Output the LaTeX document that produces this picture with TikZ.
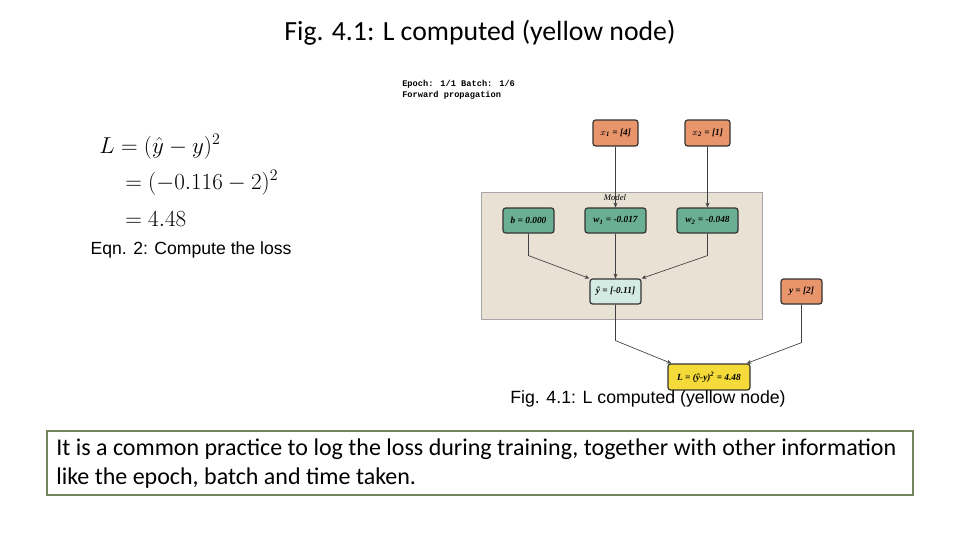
\documentclass[tikz,border=0pt]{standalone}
\usepackage{fontspec}
\setmainfont{Liberation Serif}
\newfontfamily\calibri{Carlito}
\newfontfamily\arial{Liberation Sans}
\newfontfamily\cour{Liberation Mono}
\usetikzlibrary{arrows.meta}
\definecolor{inorange}{HTML}{E8956B}
\definecolor{wgreen}{HTML}{6AAF93}
\definecolor{modelbg}{HTML}{EAE1D5}
\definecolor{yhatc}{HTML}{D4EBE4}
\definecolor{lyellow}{HTML}{F5DB3A}
\definecolor{boxedge}{HTML}{74845C}
\tikzset{
  gnode/.style={draw=black!80, line width=0.9pt, rounded corners=2pt, inner sep=0pt,
    font=\fontsize{7}{8}\selectfont\bfseries\itshape},
  conn/.style={draw=black!75, line width=0.5pt, -{Stealth[length=3.5pt,width=3pt]}},
  eqline/.style={font=\fontsize{17}{20}\selectfont, anchor=base west, inner sep=0pt},
}
\begin{document}
\begin{tikzpicture}[x=0.75pt,y=-0.75pt]
\useasboundingbox (0,0) rectangle (960,540);
\fill[white] (0,0) rectangle (960,540);
% title
\node[font=\calibri\fontsize{20.8}{24}\selectfont] (title) at (480,33) {Fig. 4.1: L computed (yellow node)};
% epoch text
\node[font=\cour\bfseries\fontsize{6.5}{8.25}\selectfont, anchor=north west, align=left, inner sep=0pt] (epoch) at (402,80) {Epoch: 1/1 Batch: 1/6\\Forward propagation};
% equation
\node[eqline] (eq1) at (99,153) {$L=(\hat{y}-y)^2$};
\node[eqline] (eq2) at (125,189) {$=(-0.116-2)^2$};
\node[eqline] (eq3) at (125,226) {$=4.48$};
\node[font=\arial\fontsize{13.2}{15}\selectfont] (eqcap) at (191,250) {Eqn. 2: Compute the loss};
% model box
\draw[fill=modelbg, draw=black!35, line width=0.6pt] (481,192) rectangle (762,319);
\node[font=\fontsize{6.5}{8}\selectfont\itshape] (model) at (615,198) {Model};
% nodes
\node[gnode, fill=inorange, minimum width=45*0.75pt, minimum height=26*0.75pt] (x1) at (615.5,133) {$x$\textsubscript{1} = [4]};
\node[gnode, fill=inorange, minimum width=45*0.75pt, minimum height=26*0.75pt] (x2) at (707.5,133) {$x$\textsubscript{2} = [1]};
\node[gnode, fill=wgreen, minimum width=51*0.75pt, minimum height=25*0.75pt] (b) at (528.5,220.5) {b = 0.000};
\node[gnode, fill=wgreen, minimum width=61*0.75pt, minimum height=25*0.75pt] (w1) at (615.5,220.5) {w\textsubscript{1} = -0.017};
\node[gnode, fill=wgreen, minimum width=61*0.75pt, minimum height=25*0.75pt] (w2) at (707.5,220.5) {w\textsubscript{2} = -0.048};
\node[gnode, fill=yhatc, minimum width=51*0.75pt, minimum height=25*0.75pt] (yhat) at (615.5,291.5) {ŷ = [-0.11]};
\node[gnode, fill=inorange, minimum width=41*0.75pt, minimum height=25*0.75pt] (y) at (801.5,291.5) {y = [2]};
\node[gnode, fill=lyellow, minimum width=82*0.75pt, minimum height=26*0.75pt] (L) at (709,377) {L = (ŷ-y)\textsuperscript{2} = 4.48};
% connectors
\draw[conn] (x1.south) -- (w1.north);
\draw[conn] (x2.south) -- (w2.north);
\draw[conn] (b.south) -- ++(0,22) -- (yhat.north west);
\draw[conn] (w1.south) -- (yhat.north);
\draw[conn] (w2.south) -- ++(0,22) -- (yhat.north east);
\draw[conn] (yhat.south) -- ++(0,36) -- ([xshift=3pt]L.north west);
\draw[conn] (y.south) -- ++(0,38) -- ([xshift=-3pt]L.north east);
% caption
\node[font=\arial\fontsize{13.3}{15}\selectfont] (figcap) at (648,399) {Fig. 4.1: L computed (yellow node)};
% bottom text box
\draw[draw=boxedge, line width=0.8pt] (47,431) rectangle (913,495);
\node[font=\calibri\fontsize{18}{21.75}\selectfont, anchor=north west, align=left, inner sep=0pt] (note) at (56,439) {It is a common practice to log the loss during training, together with other information\\like the epoch, batch and time taken.};
\end{tikzpicture}
\end{document}
